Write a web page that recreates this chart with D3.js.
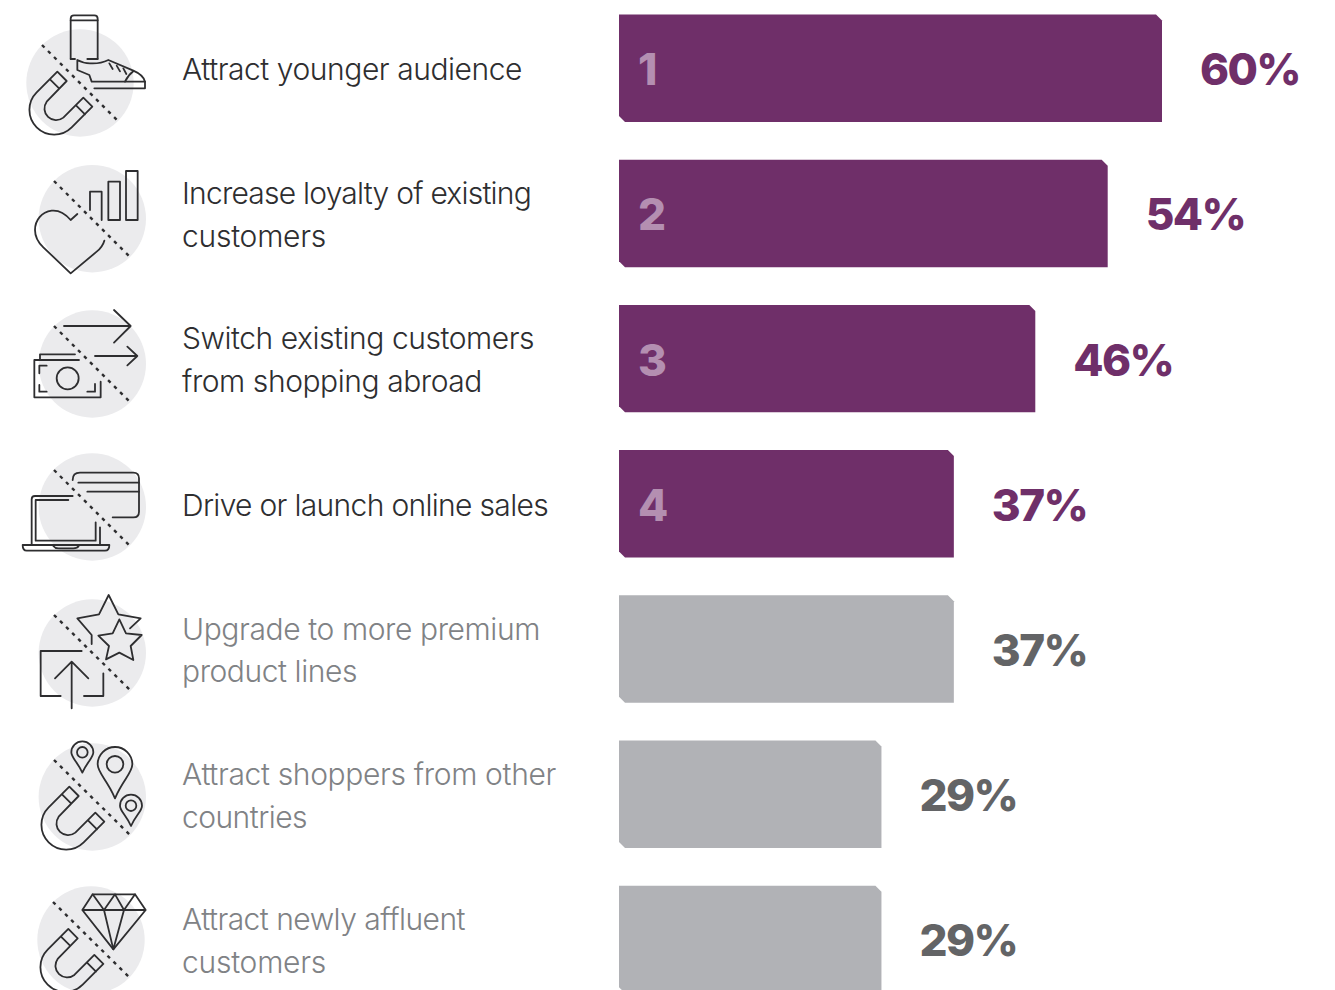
<!DOCTYPE html>
<html>
<head>
<meta charset="utf-8">
<script src="https://cdn.jsdelivr.net/npm/d3@7/dist/d3.min.js"></script>
<style>
  html, body { margin: 0; padding: 0; background: #fff; overflow: hidden; }
  svg { display: block; }
</style>
</head>
<body>
<svg id="chart" width="1335" height="990"></svg>
<script>
// Survey results: share of respondents per objective, top four ranked and highlighted.
const labels = [
  ["Attract younger audience"],
  ["Increase loyalty of existing", "customers"],
  ["Switch existing customers", "from shopping abroad"],
  ["Drive or launch online sales"],
  ["Upgrade to more premium", "product lines"],
  ["Attract shoppers from other", "countries"],
  ["Attract newly affluent", "customers"]
];
const labelWidths = [[340], [349, 144], [352, 300], [366], [358, 175], [374, 125], [283, 144]];
const values = [60, 54, 46, 37, 37, 29, 29];
const ranks = [1, 2, 3, 4, null, null, null];

const PURPLE = "#6f2f69", BAR_GREY = "#b1b2b6", RANK = "#b48fb1";
const INK = "#2e2e30", SOFT = "#808285", VALUE_GREY = "#636466";

const svg = d3.select("#chart");
const rows = d3.range(values.length);

const x = d3.scaleLinear().domain([0, 60]).range([619, 1162]);
const y = d3.scaleBand().domain(rows).range([14.5, 14.5 + 145.2 * 7 - 37.7]).paddingInner(0.26).paddingOuter(0);

// Bars with two clipped corners (top right, bottom left).
const notch = 6;
const barPath = (v, i) => {
  const x0 = x(0), x1 = x(v), y0 = y(i), y1 = y(i) + y.bandwidth();
  return `M${x0},${y0}H${x1 - notch}L${x1},${y0 + notch}V${y1}H${x0 + notch}L${x0},${y1 - notch}Z`;
};
svg.append("g").selectAll("path").data(values).join("path")
  .attr("d", barPath)
  .attr("fill", (d, i) => ranks[i] ? PURPLE : BAR_GREY);

const mid = i => y(i) + y.bandwidth() / 2;

// Rank numerals inside the highlighted bars.
svg.append("g").selectAll("text").data(rows.filter(i => ranks[i])).join("text")
  .attr("x", 638)
  .attr("y", i => mid(i) + 17)
  .attr("font-family", "Inter")
  .attr("font-weight", 800)
  .attr("font-size", 44)
  .attr("fill", RANK)
  .text(i => ranks[i]);

// Percentages to the right of each bar.
svg.append("g").selectAll("text").data(values).join("text")
  .attr("x", d => x(d) + 38)
  .attr("y", (d, i) => mid(i) + 17)
  .attr("font-family", "Inter")
  .attr("font-weight", 800)
  .attr("font-size", 44)
  .attr("letter-spacing", -1.6)
  .attr("fill", (d, i) => ranks[i] ? PURPLE : VALUE_GREY)
  .text(d => d + "%");

// Objective captions, one or two lines centred on the bar, tracked to a set line width.
const captions = svg.append("g").selectAll("text").data(labels).join("text")
  .attr("font-family", "Inter")
  .attr("font-weight", 300)
  .attr("font-size", 30)
  .attr("fill", (d, i) => ranks[i] ? INK : SOFT);
captions.selectAll("tspan").data((d, i) => d.map((line, k) => ({ line, k, n: d.length, i }))).join("tspan")
  .attr("x", 182)
  .attr("y", d => mid(d.i) + 12 + (d.k - (d.n - 1) / 2) * 42.6)
  .text(d => d.line)
  .each(function (d) {
    const natural = this.getComputedTextLength();
    d3.select(this).attr("letter-spacing", (labelWidths[d.i][d.k] - natural) / d.line.length);
  });

// Pictograms: a pale disc, a dotted divider and line art for the two halves.
const discs = [[80, 83], [92.3, 218.7], [92.3, 364], [92.3, 507], [92.3, 653], [92.3, 797], [91, 940]];
const dividers = [[42, 45, 118, 121], [54, 181, 130, 257], [54, 326, 130, 402], [54, 470, 130, 546],
                  [54, 615, 130, 690], [54, 760, 130, 835], [53, 902, 129, 977]];
const icons = svg.append("g");
icons.selectAll("circle").data(discs).join("circle")
  .attr("cx", d => d[0]).attr("cy", d => d[1]).attr("r", 53.7).attr("fill", "#ebebed");

const magnet = "M172,215L110,277A74,74 0 0 0 215,382L277,320L250,293L190,353A35,35 0 0 1 140,305L200,243Z" +
               "M150,238L178,266M228,316L255,343";
const pin = (cx, cy, r, tip, hole) =>
  `M${cx},${tip}C${cx - r * 0.45},${tip - (tip - cy) * 0.55} ${cx - r},${cy + r * 0.5} ${cx - r},${cy}` +
  `A${r},${r} 0 0 1 ${cx + r},${cy}C${cx + r},${cy + r * 0.5} ${cx + r * 0.45},${tip - (tip - cy) * 0.55} ${cx},${tip}Z` +
  `M${cx + hole},${cy}A${hole},${hole} 0 1 0 ${cx - hole},${cy}A${hole},${hole} 0 1 0 ${cx + hole},${cy}Z`;

// Line art is authored at three times its drawn size; tx and ty are the on-page offsets.
const art = [
  // phone, trainer and magnet
  { tx: 0, ty: 0, d: [
    "M212,176V56Q212,46 222,46H283Q293,46 293,56V176",
    "M212,61H293M212,177H225M262,177H293",
    "M232,180V210L268,225L275,245H435Q430,225 400,212L325,180Q300,192 270,190Q250,190 232,180Z",
    "M375,245Q385,225 400,214M283,265H435V245",
    "M328,190L338,207M350,197L360,214M370,205L379,222",
    magnet] },
  // heart and rising bars
  { tx: 0, ty: 0, d: [
    "M270,630V575H305V660M325,660V545H360V660ZM378,660V513H413V660Z",
    "M232,642L212,660C195,640 175,630 155,632C125,636 105,660 105,690C105,712 115,728 130,742L212,820L290,755Q308,740 313,722"] },
  // arrows and banknotes
  { tx: 0, ty: 290, d: [
    "M192,108H392M342,60L392,108L342,158",
    "M285,198H412M382,170L412,198L382,226",
    "M120,207V193H225M237,210H103V322H302V275",
    "M140,227H118V250M118,285V305H140M262,305H285V282",
    "M236,265A33,33 0 1 0 170,265A33,33 0 1 0 236,265Z"] },
  // payment card and laptop
  { tx: 0, ty: 290, d: [
    "M218,570Q218,548 240,548H400Q417,548 417,565V665Q417,682 400,682H338",
    "M235,578H417M262,605H417",
    "M218,618H105Q95,618 95,628V765M205,630H107V752H287V697M300,712V765",
    "M68,765H328Q328,782 315,782H80Q68,782 68,765Z",
    "M160,768Q165,775 175,775H220Q232,775 236,768"] },
  // stars and upward arrow
  { tx: 0, ty: 580, d: [
    "M275,192V165L232,115L297,103L326,45L355,103L422,115L390,145",
    "M358,118L378,160L425,165L392,198L400,240L358,218L318,238L327,198L295,167L338,160Z",
    "M245,213H122V348H182M252,348H310V280",
    "M215,385V245M165,295L215,245L265,295"] },
  // location pins and magnet
  { tx: 0, ty: 580, d: [pin(247, 517, 33, 578, 16), pin(345, 553, 52, 655, 25), pin(393, 677, 33, 738, 16)] },
  { tx: 12, ty: 715, d: [magnet] },
  // diamond and magnet
  { tx: 0, ty: 850, d: [
    "M278,133H405L437,180L340,298L247,180ZM247,180H437",
    "M278,133L312,180L345,133L372,180L405,133M312,180L340,298L372,180"] },
  { tx: 11, ty: 857.3, d: [magnet] }
];

icons.selectAll("g.art").data(art).join("g")
  .attr("class", "art")
  .attr("transform", d => `translate(${d.tx},${d.ty}) scale(${1 / 3})`)
  .selectAll("path").data(d => d.d).join("path")
  .attr("d", d => d)
  .attr("fill", "none")
  .attr("stroke", INK)
  .attr("stroke-width", 5.4)
  .attr("stroke-linejoin", "round")
  .attr("stroke-linecap", "round");

icons.selectAll("line").data(dividers).join("line")
  .attr("x1", d => d[0]).attr("y1", d => d[1]).attr("x2", d => d[2]).attr("y2", d => d[3])
  .attr("stroke", INK).attr("stroke-width", 2.4).attr("stroke-dasharray", "3.5 5");
</script>
</body>
</html>
